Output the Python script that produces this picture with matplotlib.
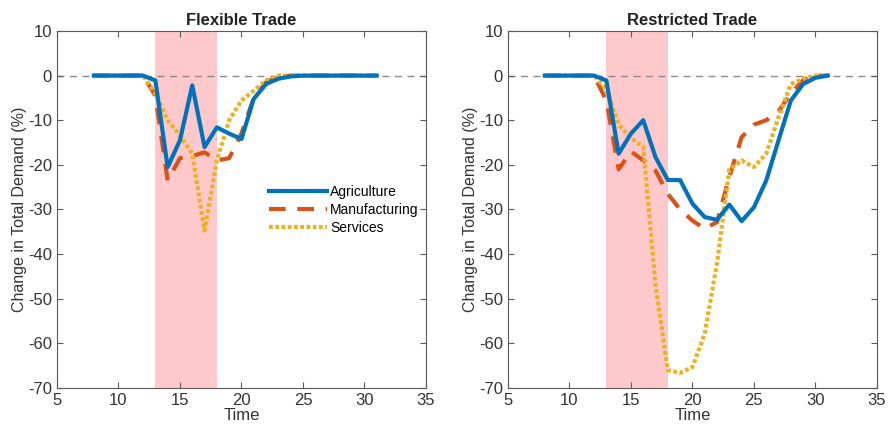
import matplotlib.pyplot as plt

plt.rcParams['font.family'] = ['Liberation Sans', 'DejaVu Sans']
plt.rcParams['axes.unicode_minus'] = False

time = list(range(8, 32))

# Flexible trade (left panel)
flex_agri = [0, 0, 0, 0, 0, -1.1, -20.5, -14.5, -2.2, -16, -11.6, -13, -14.2, -5.2,
             -1.9, -0.7, -0.2, 0, 0, 0, 0, 0, 0, 0]
flex_manu = [0, 0, 0, 0, 0, -4.5, -23.5, -18.5, -18, -17.2, -19, -18.5, -13, -5,
             -1.5, -0.3, 0, 0, 0, 0, 0, 0, 0, 0]
flex_serv = [0, 0, 0, 0, 0, -4, -10, -13.4, -17.5, -34.7, -19, -10, -5.6, -3.4,
             -1.1, 0, 0, 0, 0, 0, 0, 0, 0, 0]

# Restricted trade (right panel)
rest_agri = [0, 0, 0, 0, 0, -1.1, -17.5, -13, -10, -18.3, -23.4, -23.4, -28.7, -31.7,
             -32.3, -28.9, -32.6, -29.5, -23.5, -14.5, -5.6, -1.9, -0.5, 0]
rest_manu = [0, 0, 0, 0, 0, -5.6, -21, -17, -19, -21.3, -26.5, -30, -32.5, -34.3,
             -32.8, -22.7, -13.8, -11, -10, -8, -4, -1, 0, 0]
rest_serv = [0, 0, 0, 0, 0, -3, -11, -14, -16, -47, -66, -66.6, -65.3, -57.8,
             -42, -21, -19, -20.5, -17.5, -9.3, -1.9, -0.7, 0, 0]

shock_start, shock_end = 13, 18
xticks = [5, 10, 15, 20, 25, 30, 35]
yticks = [-70, -60, -50, -40, -30, -20, -10, 0, 10]

blue = '#0072BD'
orange = '#D95319'
yellow = '#EDB120'
axcol = '#5a5a5a'
txtcol = '#333333'

fig = plt.figure(figsize=(8.89, 4.36), dpi=100)
ax1 = fig.add_axes([0.0641, 0.110, 0.415, 0.819])
ax2 = fig.add_axes([0.5714, 0.110, 0.415, 0.819])

panels = [
    (ax1, 'Flexible Trade', flex_agri, flex_manu, flex_serv),
    (ax2, 'Restricted Trade', rest_agri, rest_manu, rest_serv),
]

for ax, title, agri, manu, serv in panels:
    ax.axvspan(shock_start, shock_end, color='#FFC9CC', lw=0, zorder=0)
    ax.axhline(0, color='#8a8a8a', ls=(0, (5, 4)), lw=1, zorder=1)
    ax.plot(time, agri, color=blue, lw=3, label='Agriculture', zorder=3)
    ax.plot(time, manu, color=orange, lw=3, ls=(0, (4, 2.8)), label='Manufacturing', zorder=2)
    ax.plot(time, serv, color=yellow, lw=3, ls=(0, (0.9, 0.6)), label='Services', zorder=2)
    ax.set_xlim(5, 35)
    ax.set_ylim(-70, 10)
    ax.set_xticks(xticks)
    ax.set_yticks(yticks)
    ax.tick_params(direction='in', top=True, right=True, length=4, width=0.8,
                   colors=axcol, labelcolor=txtcol, labelsize=12)
    for s in ax.spines.values():
        s.set_color(axcol)
        s.set_linewidth(0.8)
    ax.set_title(title, fontsize=12, fontweight='bold', color='#222222', pad=4)
    ax.set_xlabel('Time', fontsize=12, color=txtcol, labelpad=0)
    ax.set_ylabel('Change in Total Demand (%)', fontsize=11.5, color=txtcol, labelpad=1)

ax1.legend(loc='upper left', bbox_to_anchor=(0.56, 0.585), frameon=False, fontsize=10,
           handlelength=4.2, handletextpad=0.2, labelspacing=0.3, borderaxespad=0)

fig.savefig('out.png', dpi=100)
